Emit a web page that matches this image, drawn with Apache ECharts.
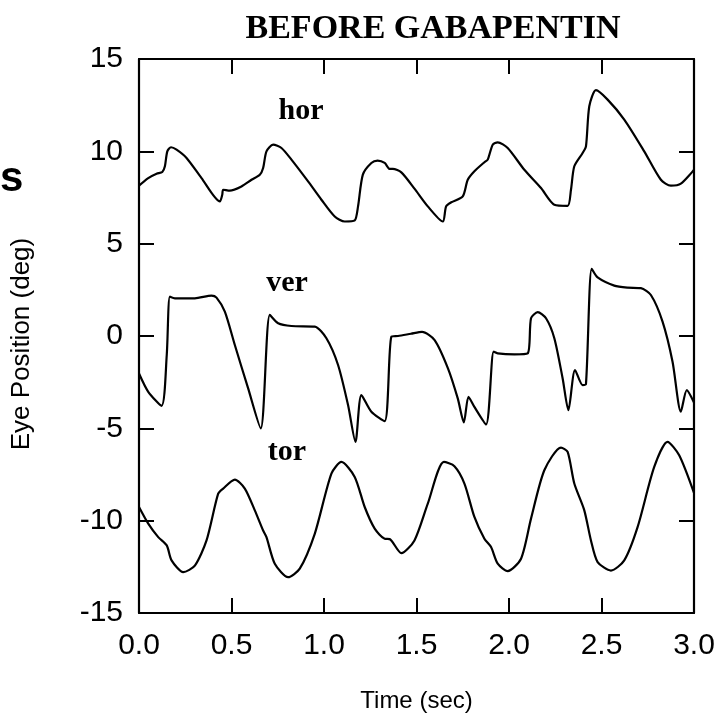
<!DOCTYPE html>
<html>
<head>
<meta charset="utf-8">
<script src="https://cdn.jsdelivr.net/npm/echarts@6/dist/echarts.min.js"></script>
<style>
html,body{margin:0;padding:0;background:#fff;}
#chart{width:726px;height:724px;}
</style>
</head>
<body>
<div id="chart"></div>
<script>
// ---- data ----
var horT = [0, 0.05, 0.095, 0.126, 0.14, 0.153, 0.173, 0.203, 0.257, 0.338, 0.437, 0.45, 0.455, 0.491, 0.554, 0.608, 0.653, 0.671, 0.689, 0.725, 0.77, 0.824, 0.914, 0.986, 1.058, 1.112, 1.166, 1.184, 1.21, 1.256, 1.29, 1.328, 1.355, 1.372, 1.418, 1.489, 1.561, 1.642, 1.66, 1.688, 1.75, 1.777, 1.813, 1.867, 1.885, 1.912, 1.939, 1.993, 2.083, 2.173, 2.245, 2.317, 2.335, 2.353, 2.398, 2.416, 2.434, 2.47, 2.533, 2.623, 2.731, 2.821, 2.875, 2.929, 3.0];
var horV = [8.14, 8.55, 8.79, 8.88, 9.19, 10.0, 10.22, 10.09, 9.64, 8.55, 7.29, 7.65, 7.92, 7.87, 8.10, 8.46, 8.73, 9.10, 10.0, 10.36, 10.18, 9.55, 8.37, 7.38, 6.47, 6.20, 6.26, 7.02, 8.74, 9.37, 9.50, 9.37, 9.05, 9.05, 8.86, 7.98, 7.02, 6.20, 7.02, 7.24, 7.56, 8.46, 8.92, 9.41, 9.55, 10.36, 10.49, 10.18, 9.0, 8.01, 7.11, 7.05, 7.92, 9.19, 9.91, 10.27, 12.44, 13.31, 12.8, 11.72, 10.0, 8.46, 8.14, 8.25, 9.0];

var verT = [0, 0.05, 0.122, 0.15, 0.167, 0.194, 0.302, 0.392, 0.419, 0.464, 0.518, 0.59, 0.658, 0.707, 0.752, 0.824, 0.95, 1.013, 1.076, 1.13, 1.17, 1.202, 1.256, 1.328, 1.364, 1.4, 1.47, 1.53, 1.598, 1.67, 1.723, 1.756, 1.781, 1.813, 1.876, 1.917, 1.939, 2.029, 2.101, 2.119, 2.155, 2.2, 2.245, 2.29, 2.321, 2.357, 2.398, 2.416, 2.447, 2.479, 2.569, 2.641, 2.713, 2.767, 2.83, 2.884, 2.929, 2.961, 3.0];
var verV = [-2.03, -3.02, -3.78, -1.03, 2.13, 2.04, 2.04, 2.19, 2.08, 1.32, -0.49, -2.84, -5.0, 1.14, 0.69, 0.54, 0.51, -0.12, -1.57, -3.74, -5.73, -3.2, -4.1, -4.61, -0.04, 0.0, 0.12, 0.22, -0.22, -1.75, -3.38, -4.68, -3.29, -3.84, -4.79, -0.85, -0.94, -0.99, -0.94, 0.96, 1.29, 0.96, -0.12, -2.3, -4.02, -1.84, -2.66, -2.6, 3.64, 3.17, 2.73, 2.62, 2.59, 2.22, 0.78, -1.39, -4.1, -2.93, -3.6];

var torT = [0, 0.05, 0.104, 0.15, 0.176, 0.239, 0.302, 0.365, 0.428, 0.455, 0.518, 0.572, 0.626, 0.671, 0.689, 0.734, 0.806, 0.869, 0.95, 1.04, 1.094, 1.166, 1.22, 1.274, 1.328, 1.355, 1.418, 1.489, 1.561, 1.648, 1.705, 1.759, 1.813, 1.867, 1.903, 1.939, 1.993, 2.065, 2.119, 2.191, 2.281, 2.317, 2.353, 2.407, 2.443, 2.479, 2.551, 2.623, 2.695, 2.785, 2.857, 2.92, 3.0];
var torV = [-9.26, -10.16, -10.89, -11.34, -12.15, -12.79, -12.43, -11.07, -8.54, -8.26, -7.78, -8.26, -9.44, -10.53, -10.89, -12.33, -13.06, -12.6, -10.71, -7.45, -6.82, -7.63, -9.26, -10.43, -10.98, -11.0, -11.76, -11.07, -9.08, -6.82, -7.05, -7.99, -9.8, -10.98, -11.43, -12.33, -12.73, -12.06, -9.89, -7.27, -6.04, -6.28, -7.99, -9.44, -11.07, -12.24, -12.7, -12.15, -10.35, -7.09, -5.73, -6.46, -8.5];

var traceNames = ['hor', 'ver', 'tor'];
var nameT = [0.876, 0.80, 0.80];
var nameV = [12.15, 2.88, -6.29];

var titleText = 'BEFORE GABAPENTIN';
var xName = 'Time (sec)';
var yName = 'Eye Position (deg)';

function zip(a, b) { return a.map(function (v, i) { return [v, b[i]]; }); }

var chart = echarts.init(document.getElementById('chart'), null, {renderer: 'canvas'});

var sans = 'Liberation Sans, Arial, Helvetica, sans-serif';
var serif = 'Liberation Serif, Times New Roman, serif';
var axisLine = {show: true, onZero: false, lineStyle: {color: '#000', width: 2.2}};
var tick = {show: true, inside: true, length: 15, lineStyle: {color: '#000', width: 2}};

var lineStyle = {color: '#000', width: 2.2};
function lineSeries(t, v) {
  return {
    type: 'line', data: zip(t, v), showSymbol: false, symbol: 'none',
    smooth: 0.25, lineStyle: lineStyle, xAxisIndex: 0, yAxisIndex: 0,
    animation: false, silent: true
  };
}

var option = {
  backgroundColor: '#fff',
  animation: false,
  title: {
    text: titleText, left: 428, top: 7, textAlign: 'center',
    textStyle: {fontFamily: serif, fontWeight: 'bold', fontSize: 34, color: '#000'}
  },
  grid: {left: 139, right: 32, top: 59, bottom: 111, containLabel: false},
  xAxis: [
    {
      type: 'value', position: 'bottom', min: 0, max: 3, interval: 0.5,
      axisLine: axisLine, axisTick: tick, splitLine: {show: false},
      axisLabel: {show: true, margin: 18, fontFamily: sans, fontSize: 30, color: '#000',
        formatter: function (v) { return v.toFixed(1); }},
      name: xName, nameLocation: 'middle', nameGap: 76,
      nameTextStyle: {fontFamily: sans, fontSize: 24, color: '#000'}
    },
    {
      type: 'value', position: 'top', min: 0, max: 3, interval: 0.5,
      axisLine: axisLine, axisTick: tick, splitLine: {show: false},
      axisLabel: {show: false}
    }
  ],
  yAxis: [
    {
      type: 'value', position: 'left', min: -15, max: 15, interval: 5,
      axisLine: axisLine, axisTick: tick, splitLine: {show: false},
      axisLabel: {show: true, margin: 16, fontFamily: sans, fontSize: 30, color: '#000'},
      name: yName, nameLocation: 'middle', nameGap: 104, nameRotate: 90,
      nameTextStyle: {fontFamily: sans, fontSize: 26, color: '#000', padding: [0, 16, 0, 0]}
    },
    {
      type: 'value', position: 'right', min: -15, max: 15, interval: 5,
      axisLine: axisLine, axisTick: tick, splitLine: {show: false},
      axisLabel: {show: false}
    }
  ],
  graphic: [
    {type: 'text', left: 0, top: 158, style: {text: 's', font: 'bold 42px ' + sans, fill: '#000'}}
  ],
  series: [
    lineSeries(horT, horV),
    lineSeries(verT, verV),
    lineSeries(torT, torV),
    {
      type: 'scatter', symbolSize: 0, xAxisIndex: 0, yAxisIndex: 0, silent: true,
      itemStyle: {opacity: 1},
      data: nameT.map(function (t, i) { return {value: [t, nameV[i]], name: traceNames[i]}; }),
      label: {show: true, position: 'inside', formatter: '{b}', align: 'center', verticalAlign: 'middle',
        fontFamily: serif, fontWeight: 'bold', fontSize: 30, color: '#000', opacity: 1}
    }
  ]
};
chart.setOption(option);
</script>
</body>
</html>
